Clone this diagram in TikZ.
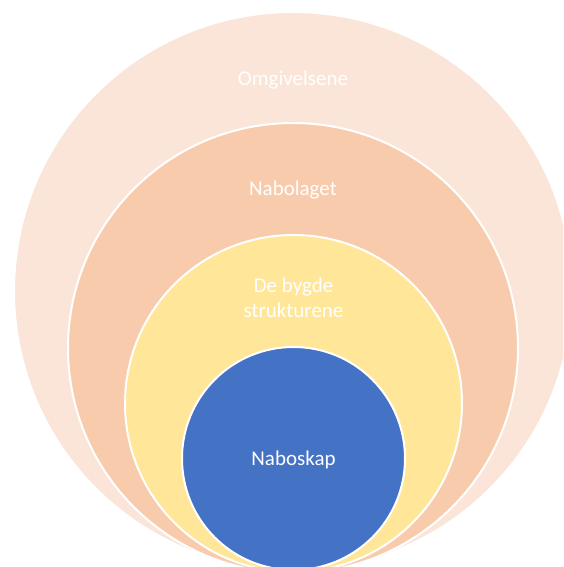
\documentclass[tikz,border=0pt]{standalone}
\usepackage{fontspec}
\setmainfont{Carlito}
\definecolor{ringout}{HTML}{FAE5D8}
\definecolor{ringmid}{HTML}{F8CBAD}
\definecolor{ringin}{HTML}{FFE699}
\definecolor{core}{HTML}{4472C4}
\tikzset{
  ring/.style={circle, draw=white, line width=2pt, inner sep=0pt, outer sep=0pt},
  lbl/.style={text=white, font=\fontsize{21}{25}\selectfont, align=center}
}
\begin{document}
\begin{tikzpicture}[x=1pt, y=-1pt]
  \clip (0,0) rectangle (563,567);
  \node[ring, fill=ringout, minimum size=558pt] (O) at (293,291) {};
  \node[ring, fill=ringmid, minimum size=450pt] (N) at (293,348) {};
  \node[ring, fill=ringin, minimum size=337pt] (B) at (293.5,403.5) {};
  \node[ring, fill=core, minimum size=223pt] (K) at (293.5,458.5) {};
  \node[lbl] (Otext) at (293,80) {Omgivelsene};
  \node[lbl] (Ntext) at (293,190) {Nabolaget};
  \node[lbl] (Btext) at (293.5,298) {De bygde\\strukturene};
  \node[lbl] (Ktext) at (293.5,460) {Naboskap};
\end{tikzpicture}
\end{document}
